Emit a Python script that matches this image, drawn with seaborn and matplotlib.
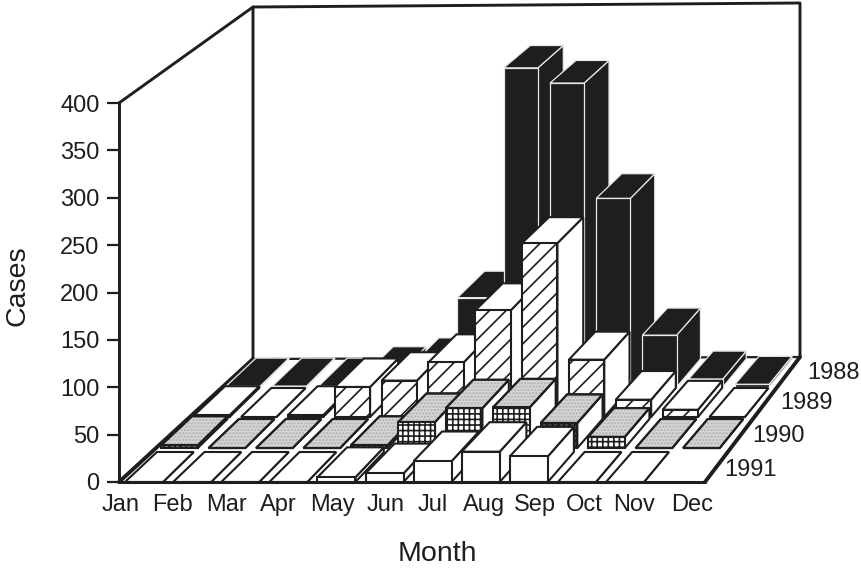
import seaborn as sns
import matplotlib.pyplot as plt

months = ['Jan', 'Feb', 'Mar', 'Apr', 'May', 'Jun', 'Jul', 'Aug', 'Sep', 'Oct', 'Nov', 'Dec']
years = ['1988', '1989', '1990', '1991']

cases_1988 = [1, 1, 1, 14, 24, 100, 357, 340, 211, 58, 9, 3]
cases_1989 = [2, 0, 2, 33, 40, 60, 117, 191, 63, 19, 8, 0]
cases_1990 = [3, 0, 0, 0, 3, 28, 43, 44, 27, 12, 0, 0]
cases_1991 = [0, 0, 0, 0, 5, 9, 22, 32, 27, 0, 0, None]

month_label_x = [121, 172, 226, 278, 332, 386, 433, 484, 535, 584, 634, 692]
year_label_pos = [(807, 373), (780, 403), (752, 436), (724, 470)]
row_front = [0.766, 0.524, 0.274, 0.0]
row_back = [0.992, 0.758, 0.508, 0.242]

sns.set_style('white')
plt.rcParams['font.family'] = ['Liberation Sans', 'DejaVu Sans']
plt.rcParams['hatch.linewidth'] = 1.2

ink = '#1e1e1e'


def lerp(a, b, t):
    return a + (b - a) * t


def left_x(k, d):
    return lerp(125 + 48.1 * k, 257 + 45.7 * k, d)


def right_x(k, d):
    return left_x(k, d) + lerp(38, 33, d)


def pos_y(d, v):
    return lerp(482, 358, d) - v * lerp(379, 351, d) / 400


def draw_bar(ax, k, d0, d1, v, front, top, side, edge, hatch=None, dots=False, lw=1.5):
    ax.fill([right_x(k, d0), right_x(k, d0), right_x(k, d1), right_x(k, d1)],
            [pos_y(d0, 0), pos_y(d0, v), pos_y(d1, v), pos_y(d1, 0)],
            facecolor = side, edgecolor = edge, linewidth = lw, zorder = 3)
    top_x = [left_x(k, d0), right_x(k, d0), right_x(k, d1), left_x(k, d1)]
    top_y = [pos_y(d0, v), pos_y(d0, v), pos_y(d1, v), pos_y(d1, v)]
    ax.fill(top_x, top_y, facecolor = top, edgecolor = edge, linewidth = lw, zorder = 3)
    if dots:
        ax.fill(top_x, top_y, facecolor = 'none', edgecolor = '#b0b0b0', linewidth = 0,
                hatch = '.....', zorder = 3)
        ax.fill(top_x, top_y, facecolor = 'none', edgecolor = edge, linewidth = lw, zorder = 3)
    ax.fill([left_x(k, d0), right_x(k, d0), right_x(k, d0), left_x(k, d0)],
            [pos_y(d0, 0), pos_y(d0, 0), pos_y(d0, v), pos_y(d0, v)],
            facecolor = front, edgecolor = edge, linewidth = lw, hatch = hatch, zorder = 3)


fig = plt.figure(figsize = (8.61, 5.69), dpi = 100)

# whole figure in pixel coordinates, the pseudo 3d floor and bars go here
ax = fig.add_axes([0, 0, 1, 1])
ax.set_xlim(0, 861)
ax.set_ylim(569, 0)
ax.axis('off')

ax.plot([253, 253, 800, 800], [359, 7, 3, 357], color = ink, lw = 2.1)
ax.plot([119, 253], [103, 7], color = ink, lw = 2.1)
ax.plot([253, 800], [359, 357], color = ink, lw = 1.6)
ax.plot([119, 253], [482, 359], color = ink, lw = 2.8)
ax.plot([705, 800], [482, 357], color = ink, lw = 2.8)
ax.plot([119, 705], [482, 482], color = ink, lw = 2.2)

styles = [
    dict(front = ink, top = ink, side = ink, edge = '#e8e8e8', lw = 0.9),
    dict(front = 'white', top = 'white', side = 'white', edge = ink, hatch = '//'),
    dict(front = 'white', top = '#d8d8d8', side = 'white', edge = ink, hatch = '+++', dots = True),
    dict(front = 'white', top = 'white', side = 'white', edge = ink),
]

for row, values in enumerate([cases_1988, cases_1989, cases_1990, cases_1991]):
    for k, v in enumerate(values):
        if v is None:
            continue
        draw_bar(ax, k, row_front[row], row_back[row], v, **styles[row])

for name, (x, y) in zip(years, year_label_pos):
    ax.text(x, y, name, fontsize = 17, color = ink, va = 'center', ha = 'left')

ax.text(17, 286, 'Cases', fontsize = 20.5, color = ink, rotation = 90, va = 'center', ha = 'center')
ax.text(437, 554, 'Month', fontsize = 20.5, color = ink, va = 'center', ha = 'center')

# real axis for the value ticks and month labels, sits on the front plane
axis = fig.add_axes([119 / 861, (569 - 482) / 569, (705 - 119) / 861, 379 / 569])
axis.patch.set_alpha(0)
axis.set_xlim(119, 705)
axis.set_ylim(0, 400)
axis.set_yticks(range(0, 401, 50))
axis.set_xticks(month_label_x)
axis.set_xticklabels(months)
axis.tick_params(axis = 'y', left = True, length = 9, width = 1.6, color = ink,
                 labelsize = 17, labelcolor = ink, pad = 5)
axis.tick_params(axis = 'x', bottom = False, labelsize = 17, labelcolor = ink, pad = 5)
sns.despine(ax = axis, top = True, right = True, bottom = True)
axis.spines['left'].set_linewidth(2.1)
axis.spines['left'].set_color(ink)

plt.savefig('out.png', dpi = 100)
